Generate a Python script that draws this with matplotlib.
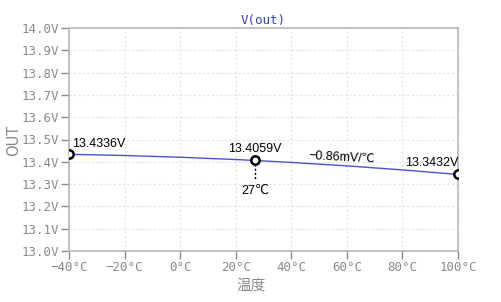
import matplotlib
matplotlib.use("Agg")
import matplotlib.pyplot as plt
from matplotlib.ticker import FuncFormatter, MultipleLocator

temps = [-40, -20, 0, 20, 27, 40, 60, 80, 100]
vout = [13.4336, 13.4283, 13.4205, 13.4102, 13.4059, 13.3972, 13.3818, 13.3637, 13.3432]
mark_t = [-40, 27, 100]
mark_v = [13.4336, 13.4059, 13.3432]
mark_labels = ["13.4336V", "13.4059V", "13.3432V"]
slope_label = "−0.86mV/℃"
temp_label = "27℃"
x_ticks = [-40, -20, 0, 20, 40, 60, 80, 100]

fig = plt.figure(figsize=(5.02, 3.02), dpi=100)
ax = fig.add_axes([69/502, 1-251/302, 389/502, 223/302])

gray = "#8a8a8a"
ax.plot(temps, vout, color="#4a52d8", lw=1.0, zorder=3)
ax.plot(mark_t, mark_v, "o", ms=6, mfc="white", mec="black", mew=1.8, zorder=4)

ax.set_xlim(-40, 100)
ax.set_ylim(13.0, 14.0)
ax.set_xticks(x_ticks)
ax.yaxis.set_major_locator(MultipleLocator(0.1))
ax.xaxis.set_major_formatter(FuncFormatter(lambda v, p: f"{v:.0f}°C".replace("-", "−")))
ax.yaxis.set_major_formatter(FuncFormatter(lambda v, p: f"{v:.1f}V"))
ax.grid(True, color="#e2e2e2", ls=(0, (2, 2)), lw=0.8)
for s in ax.spines.values():
    s.set_color("#b8b8b8")
    s.set_linewidth(1.2)
ax.tick_params(direction="out", length=6, width=1.0, color=gray, labelcolor=gray,
               labelsize=9, pad=1.5)
for lab in ax.get_xticklabels() + ax.get_yticklabels():
    lab.set_family("DejaVu Sans Mono")

ax.set_title("V(out)", color="#3a3ad0", family="DejaVu Sans Mono", fontsize=9, pad=3)
fig.text(14/502, 1-140/302, "OUT", color=gray, family="DejaVu Sans", fontsize=10.5,
         rotation=90, ha="center", va="center")
fig.text(0.5, 9/302, "温度", color=gray, family=["Noto Sans CJK JP", "DejaVu Sans"],
         fontsize=10.5, ha="center", va="bottom")

tfont = dict(family=["Liberation Sans", "Noto Sans CJK JP"], fontsize=9, color="black")
ax.annotate(mark_labels[0], (mark_t[0], mark_v[0]), xytext=(2, 3), textcoords="offset points",
            ha="left", va="bottom", **tfont)
ax.annotate(mark_labels[1], (mark_t[1], mark_v[1]), xytext=(0, 4), textcoords="offset points",
            ha="center", va="bottom", **tfont)
ax.annotate(mark_labels[2], (mark_t[2], mark_v[2]), xytext=(0, 4), textcoords="offset points",
            ha="right", va="bottom", **tfont)
ax.annotate(slope_label, (58, 13.417), ha="center", va="center", rotation=-3, **tfont)
ax.plot([mark_t[1], mark_t[1]], [mark_v[1] - 0.018, mark_v[1] - 0.085], color="black",
        ls=(0, (1.5, 1.5)), lw=1.0, zorder=2)
ax.annotate(temp_label, (mark_t[1], mark_v[1] - 0.11), ha="center", va="top",
            family=["Liberation Sans", "DejaVu Sans"], fontsize=9, color="black")

fig.savefig("out.png", dpi=100)
